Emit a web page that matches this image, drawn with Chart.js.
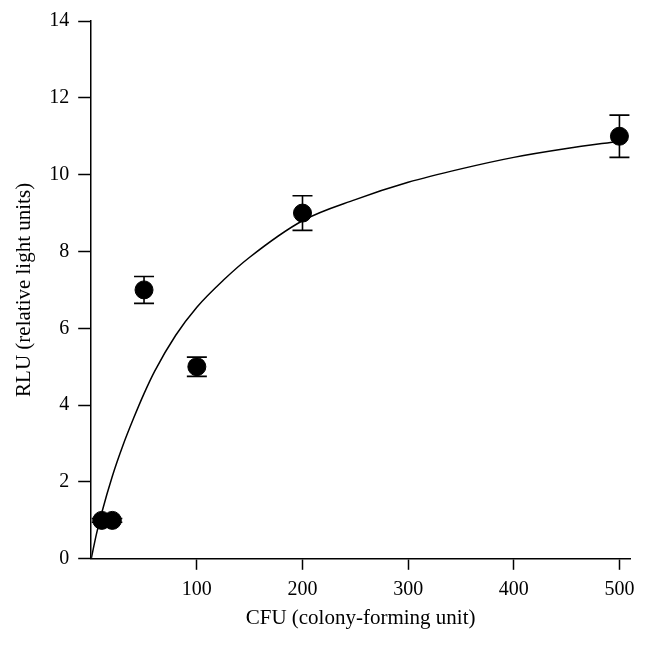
<!DOCTYPE html>
<html>
<head>
<meta charset="utf-8">
<script src="https://cdn.jsdelivr.net/npm/chart.js@4.4.0/dist/chart.umd.min.js"></script>
<style>
  html, body { margin: 0; padding: 0; background: #fff; }
  #wrap { width: 647px; height: 646px; }
</style>
</head>
<body>
<div id="wrap"><canvas id="rluChart"></canvas></div>
<script>
// measured points (CFU vs RLU) with error bars
const cfu = [10, 20, 50, 100, 200, 500];
const rlu = [1, 1, 7, 5, 9, 11];
const rluErr = [0.05, 0.05, 0.35, 0.25, 0.45, 0.55];

// fitted curve
const fitX = [0, 5, 10, 20, 30, 40, 50, 60, 80, 100, 125, 150, 200, 250, 300, 350, 400, 450, 500];
const fitY = [0, 0.65, 1.2, 2.15, 2.95, 3.65, 4.3, 4.88, 5.82, 6.55, 7.25, 7.85, 8.8, 9.35, 9.8, 10.15, 10.45, 10.68, 10.87];

const xTicks = [100, 200, 300, 400, 500];
const yTicks = [0, 2, 4, 6, 8, 10, 12, 14];

const serif = "'Liberation Serif', 'DejaVu Serif', serif";

// draws vertical error bars with caps under the dots
const errorBars = {
    id: 'errorBars',
    beforeDatasetsDraw(chart) {
        const ctx = chart.ctx;
        const xs = chart.scales.x, ys = chart.scales.y;
        ctx.save();
        ctx.strokeStyle = '#000';
        ctx.lineWidth = 1.6;
        cfu.forEach((c, i) => {
            const px = xs.getPixelForValue(c);
            const top = ys.getPixelForValue(rlu[i] + rluErr[i]);
            const bot = ys.getPixelForValue(rlu[i] - rluErr[i]);
            ctx.beginPath();
            ctx.moveTo(px, top); ctx.lineTo(px, bot);
            ctx.moveTo(px - 10, top); ctx.lineTo(px + 10, top);
            ctx.moveTo(px - 10, bot); ctx.lineTo(px + 10, bot);
            ctx.stroke();
        });
        ctx.restore();
    }
};

const ctx = document.getElementById('rluChart').getContext('2d');
new Chart(ctx, {
    type: 'scatter',
    data: {
        datasets: [{
            label: 'RLU',
            data: cfu.map((c, i) => ({ x: c, y: rlu[i] })),
            backgroundColor: '#000',
            borderColor: '#000',
            pointRadius: 9,
            order: 0
        }, {
            label: 'fit',
            type: 'line',
            data: fitX.map((c, i) => ({ x: c, y: fitY[i] })),
            borderColor: '#000',
            borderWidth: 1.5,
            pointRadius: 0,
            cubicInterpolationMode: 'monotone',
            fill: false,
            order: 1
        }]
    },
    plugins: [errorBars],
    options: {
        responsive: true,
        maintainAspectRatio: false,
        animation: false,
        layout: { padding: { left: 8, right: 17, top: 8, bottom: 15 } },
        plugins: { legend: { display: false }, tooltip: { enabled: false } },
        scales: {
            x: {
                type: 'linear',
                min: 0,
                max: 510,
                afterBuildTicks: s => { s.ticks = xTicks.map(v => ({ value: v })); },
                grid: { drawOnChartArea: false, tickLength: 11, color: '#000', tickWidth: 1.5 },
                border: { color: '#000', width: 1.5 },
                ticks: { color: '#000', font: { family: serif, size: 20 }, padding: 8, maxRotation: 0 },
                title: { display: true, text: 'CFU (colony-forming unit)', color: '#000', font: { family: serif, size: 21 }, padding: { top: -4, bottom: 0 } }
            },
            y: {
                min: 0,
                max: 14,
                afterBuildTicks: s => { s.ticks = yTicks.map(v => ({ value: v })); },
                grid: { drawOnChartArea: false, tickLength: 13, color: '#000', tickWidth: 1.5 },
                border: { color: '#000', width: 1.5 },
                ticks: { color: '#000', font: { family: serif, size: 20 }, padding: 9 },
                title: { display: true, text: 'RLU (relative light units)', color: '#000', font: { family: serif, size: 21 }, padding: { top: 4, bottom: 3 } }
            }
        }
    }
});
</script>
</body>
</html>
